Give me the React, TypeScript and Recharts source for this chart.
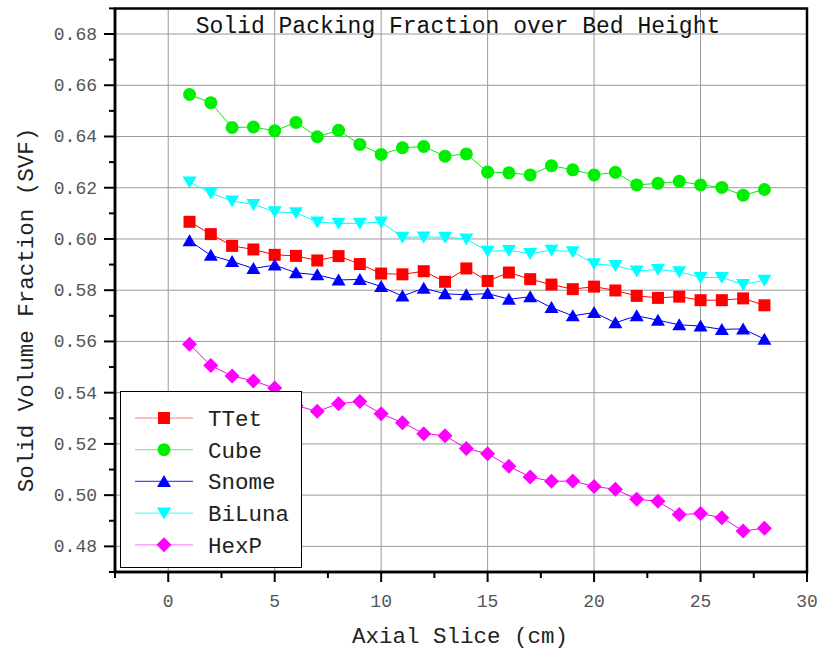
import React from 'react';
import {
  LineChart,
  Line,
  XAxis,
  YAxis,
  CartesianGrid,
  Legend,
  ReferenceArea,
} from 'recharts';

const slices = [1, 2, 3, 4, 5, 6, 7, 8, 9, 10, 11, 12, 13, 14, 15, 16, 17, 18, 19, 20, 21, 22, 23, 24, 25, 26, 27, 28];

const ttet = [0.6067, 0.6019, 0.5973, 0.5959, 0.5938, 0.5934, 0.5916, 0.5933, 0.5902, 0.5865, 0.5862, 0.5874, 0.5833, 0.5885, 0.5836, 0.5869, 0.5843, 0.5822, 0.5804, 0.5814, 0.5799, 0.5778, 0.5770, 0.5775, 0.5761, 0.5761, 0.5768, 0.5741];
const cube = [0.6564, 0.6532, 0.6435, 0.6437, 0.6422, 0.6455, 0.6399, 0.6424, 0.6369, 0.6330, 0.6356, 0.6361, 0.6323, 0.6332, 0.6261, 0.6258, 0.6250, 0.6286, 0.6270, 0.6250, 0.6260, 0.6211, 0.6217, 0.6225, 0.6211, 0.6201, 0.6171, 0.6193];
const snome = [0.5993, 0.5936, 0.5912, 0.5885, 0.5898, 0.5868, 0.5860, 0.5840, 0.5842, 0.5814, 0.5777, 0.5808, 0.5786, 0.5782, 0.5787, 0.5765, 0.5774, 0.5732, 0.5700, 0.5713, 0.5673, 0.5700, 0.5683, 0.5665, 0.5660, 0.5647, 0.5649, 0.5609];
const biluna = [0.6222, 0.6179, 0.6148, 0.6135, 0.6106, 0.6102, 0.6066, 0.6061, 0.6061, 0.6066, 0.6007, 0.6008, 0.6007, 0.6000, 0.5952, 0.5955, 0.5943, 0.5956, 0.5950, 0.5903, 0.5896, 0.5875, 0.5881, 0.5872, 0.5850, 0.5850, 0.5822, 0.5839];
const hexp = [0.5589, 0.5506, 0.5465, 0.5446, 0.5418, 0.5350, 0.5327, 0.5357, 0.5366, 0.5318, 0.5283, 0.5240, 0.5232, 0.5182, 0.5162, 0.5113, 0.5071, 0.5054, 0.5055, 0.5034, 0.5023, 0.4984, 0.4976, 0.4924, 0.4928, 0.4912, 0.4860, 0.4871];

const xTicks = [-2.5, 0, 2.5, 5, 7.5, 10, 12.5, 15, 17.5, 20, 22.5, 25, 27.5, 30];
const xMajor = [0, 5, 10, 15, 20, 25, 30];
const yTicks = [0.47, 0.48, 0.49, 0.5, 0.51, 0.52, 0.53, 0.54, 0.55, 0.56, 0.57, 0.58, 0.59, 0.6, 0.61, 0.62, 0.63, 0.64, 0.65, 0.66, 0.67, 0.68, 0.69];
const yMajor = [0.48, 0.5, 0.52, 0.54, 0.56, 0.58, 0.6, 0.62, 0.64, 0.66, 0.68];

const data = slices.map((s, i) => ({
  slice: s,
  TTet: ttet[i],
  Cube: cube[i],
  Snome: snome[i],
  BiLuna: biluna[i],
  HexP: hexp[i],
}));

const FONT = '"Liberation Mono", "DejaVu Sans Mono", monospace';

type Shape = 'square' | 'circle' | 'up' | 'down' | 'diamond';

const series: { key: string; color: string; legendLine: string; shape: Shape }[] = [
  { key: 'TTet', color: '#ff0000', legendLine: '#f88080', shape: 'square' },
  { key: 'Cube', color: '#00ee00', legendLine: '#88ee88', shape: 'circle' },
  { key: 'Snome', color: '#0000ff', legendLine: '#4848ff', shape: 'up' },
  { key: 'BiLuna', color: '#00ffff', legendLine: '#66ffff', shape: 'down' },
  { key: 'HexP', color: '#ff00ff', legendLine: '#ff88ff', shape: 'diamond' },
];

const marker = (shape: Shape, cx: number, cy: number, color: string, key?: any) => {
  switch (shape) {
    case 'square':
      return <rect key={key} x={cx - 6} y={cy - 6} width={12} height={12} fill={color} />;
    case 'circle':
      return <circle key={key} cx={cx} cy={cy} r={6.5} fill={color} />;
    case 'up':
      return <polygon key={key} points={`${cx},${cy - 6.5} ${cx + 7},${cy + 5.5} ${cx - 7},${cy + 5.5}`} fill={color} />;
    case 'down':
      return <polygon key={key} points={`${cx},${cy + 6.5} ${cx + 7},${cy - 5.5} ${cx - 7},${cy - 5.5}`} fill={color} />;
    default:
      return <polygon key={key} points={`${cx},${cy - 7.5} ${cx + 7.5},${cy} ${cx},${cy + 7.5} ${cx - 7.5},${cy}`} fill={color} />;
  }
};

const XTick = (props: any) => {
  const { x, y, payload } = props;
  const major = xMajor.includes(payload.value);
  return (
    <g>
      <line x1={x} x2={x} y1={y} y2={y + (major ? 10 : 6)} stroke="#000" strokeWidth={2} />
      {major && (
        <text x={x} y={y + 35} textAnchor="middle" fontFamily={FONT} fontSize={18} fill="#555">
          {payload.value}
        </text>
      )}
    </g>
  );
};

const YTick = (props: any) => {
  const { x, y, payload } = props;
  const major = yMajor.some((m) => Math.abs(m - payload.value) < 1e-6);
  return (
    <g>
      <line x1={x} x2={x - (major ? 11 : 6)} y1={y} y2={y} stroke="#000" strokeWidth={2} />
      {major && (
        <text x={x - 18} y={y + 6} textAnchor="end" fontFamily={FONT} fontSize={18} fill="#555">
          {payload.value.toFixed(2)}
        </text>
      )}
    </g>
  );
};

const LegendBox = () => (
  <div
    style={{
      width: 180,
      height: 175,
      background: '#fff',
      border: '1px solid #000',
      boxSizing: 'content-box',
    }}
  >
    <svg width={180} height={175}>
      {series.map((s, i) => {
        const cy = 26 + i * 31.7;
        return (
          <g key={s.key}>
            <line x1={14} x2={72} y1={cy} y2={cy} stroke={s.legendLine} strokeWidth={1.2} />
            {marker(s.shape, 43, cy, s.color)}
            <text x={87} y={cy + 8} fontFamily={FONT} fontSize={22.5} fill="#222">
              {s.key}
            </text>
          </g>
        );
      })}
    </svg>
  </div>
);

export default function App() {
  return (
    <div style={{ position: 'absolute', left: 0, top: 0, width: 822, height: 656, background: '#fff' }}>
      <LineChart
        width={822}
        height={656}
        data={data}
        margin={{ top: 8.4, right: 15, bottom: 44, left: 15 }}
      >
        <CartesianGrid
          stroke="#9a9a9a"
          strokeWidth={1}
          verticalValues={[0, 5, 10, 15, 20, 25]}
          horizontalValues={yMajor}
        />
        <XAxis
          dataKey="slice"
          type="number"
          domain={[-2.5, 30]}
          ticks={xTicks}
          interval={0}
          height={40}
          tickSize={0}
          tickMargin={0}
          tickLine={false}
          axisLine={{ stroke: '#000', strokeWidth: 2.5 }}
          tick={<XTick />}
          allowDataOverflow
        />
        <YAxis
          type="number"
          domain={[0.47, 0.69]}
          ticks={yTicks}
          interval={0}
          width={100}
          tickSize={0}
          tickMargin={0}
          tickLine={false}
          axisLine={{ stroke: '#000', strokeWidth: 2.5 }}
          tick={<YTick />}
          allowDataOverflow
        />
        <ReferenceArea x1={-2.5} x2={30} y1={0.47} y2={0.69} fill="none" fillOpacity={0} stroke="#000" strokeWidth={2.5} />
        {series.map((s) => (
          <Line
            key={s.key}
            dataKey={s.key}
            stroke={s.color}
            strokeWidth={1}
            isAnimationActive={false}
            dot={(p: any) => marker(s.shape, p.cx, p.cy, s.color, `${s.key}-${p.index}`)}
            activeDot={false}
          />
        ))}
        <Legend
          layout="vertical"
          align="center"
          verticalAlign="middle"
          content={() => <LegendBox />}
          wrapperStyle={{ position: 'absolute', left: 120, top: 391, width: 182, height: 177 }}
        />
      </LineChart>
      <svg width={822} height={656} style={{ position: 'absolute', left: 0, top: 0, pointerEvents: 'none' }}>
        <text x={458} y={33} textAnchor="middle" fontFamily={FONT} fontSize={23} fill="#111">
          Solid Packing Fraction over Bed Height
        </text>
        <text x={460} y={643} textAnchor="middle" fontFamily={FONT} fontSize={22.5} fill="#222">
          Axial Slice (cm)
        </text>
        <text
          x={33}
          y={310}
          textAnchor="middle"
          fontFamily={FONT}
          fontSize={22.5}
          fill="#222"
          transform="rotate(-90, 33, 310)"
        >
          Solid Volume Fraction (SVF)
        </text>
      </svg>
    </div>
  );
}
